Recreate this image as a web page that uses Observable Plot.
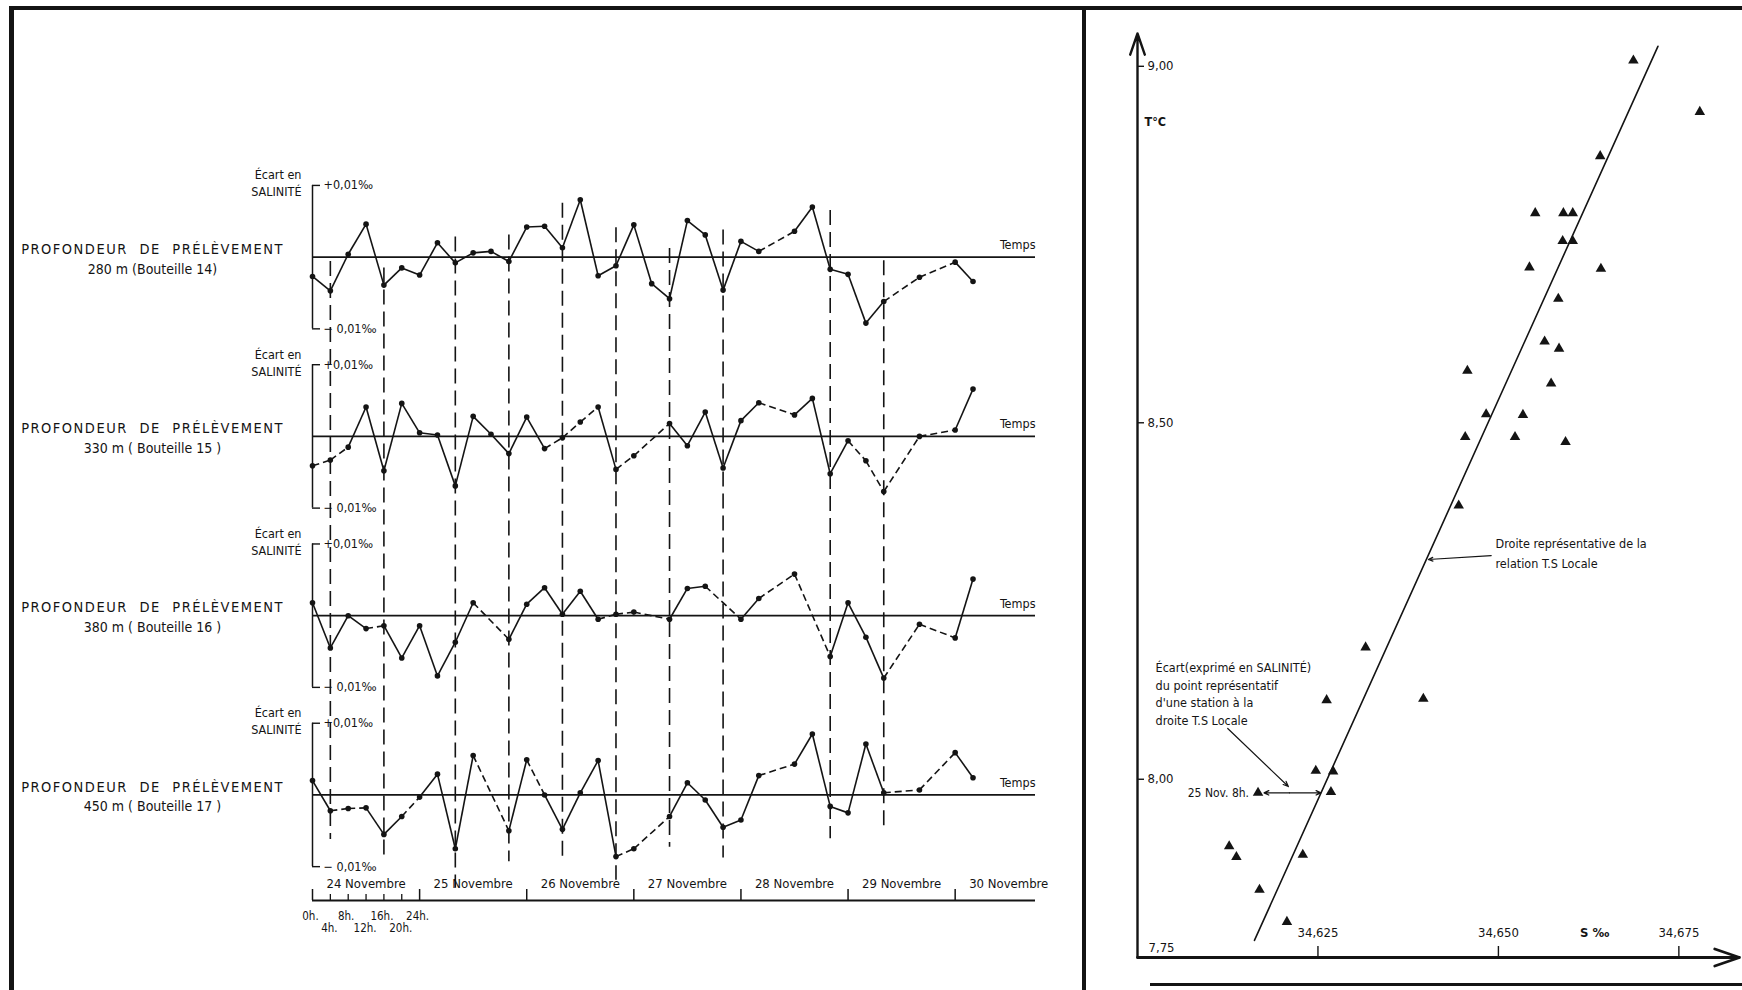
<!DOCTYPE html>
<html><head><meta charset="utf-8">
<script src="https://cdn.jsdelivr.net/npm/d3@7"></script>
<script src="https://cdn.jsdelivr.net/npm/@observablehq/plot@0.6"></script>
<style>
html,body{margin:0;padding:0;background:#fff;}
#page{position:relative;width:1742px;height:990px;overflow:hidden;background:#fff;}
.rule{position:absolute;background:#141414;}
#left{position:absolute;left:0;top:0;}
#right{position:absolute;left:1086px;top:0;}
</style></head><body>
<div id="page">
  <div id="left"></div>
  <div id="right"></div>
  <div class="rule" style="left:9px;top:6px;width:1733px;height:4px"></div>
  <div class="rule" style="left:9px;top:6px;width:5px;height:984px"></div>
  <div class="rule" style="left:1082px;top:6px;width:4px;height:984px"></div>
  <div class="rule" style="left:1150px;top:983px;width:592px;height:3px"></div>
</div>
<script>
// ---------------- LEFT PANEL DATA ----------------
// sampling times: hours since 24 Novembre 0h (one sample every 4 h)
const sampleHours = [0,4,8,12,16,20,24,28,32,36,40,44,48,52,56,60,64,68,72,76,80,84,88,92,96,100,104,108,112,116,120,124,128,132,136,140,144,148];
const depthTitles = ["280 m (Bouteille 14)", "330 m ( Bouteille 15 )", "380 m ( Bouteille 16 )", "450 m ( Bouteille 17 )"];
// salinity deviation, unit = 0.01 ‰ (null = no sample)
const ecart280 = [-0.27,-0.47,0.04,0.46,-0.39,-0.15,-0.25,0.20,-0.08,0.06,0.08,-0.06,0.42,0.43,0.13,0.80,-0.26,-0.12,0.45,-0.37,-0.58,0.51,0.31,-0.46,0.22,0.08,null,0.36,0.70,-0.17,-0.24,-0.92,-0.62,null,-0.28,null,-0.07,-0.34];
const ecart330 = [-0.41,-0.33,-0.15,0.41,-0.48,0.46,0.05,0.02,-0.69,0.28,0.03,-0.24,0.27,-0.17,-0.02,0.20,0.41,-0.46,-0.27,null,0.18,-0.13,0.34,-0.44,0.22,0.47,null,0.30,0.53,-0.52,-0.06,-0.34,-0.77,null,0.00,null,0.09,0.66];
const ecart380 = [0.18,-0.45,0.00,-0.18,-0.14,-0.59,-0.14,-0.84,-0.37,0.18,null,-0.33,0.16,0.39,0.02,0.34,-0.05,0.02,0.05,null,-0.05,0.38,0.41,null,-0.05,0.24,null,0.58,null,-0.57,0.18,-0.30,-0.87,null,-0.12,null,-0.31,0.51];
const ecart450 = [0.20,-0.22,-0.19,-0.18,-0.55,-0.30,-0.03,0.29,-0.75,0.55,null,-0.50,0.49,0.00,-0.48,0.03,0.48,-0.86,-0.75,null,-0.30,0.17,-0.07,-0.45,-0.35,0.27,null,0.43,0.85,-0.16,-0.25,0.71,0.03,null,0.07,null,0.59,0.24];
// sample indices whose following segment is drawn dashed (gaps are always dashed)
const dashedFrom280 = [];
const dashedFrom330 = [0,1,13,14,15,17,30,31];
const dashedFrom380 = [3,16,17];
const dashedFrom450 = [1,2,5,12,17];
// long dashed vertical guides: hour, top (row 280 units), bottom (row 450 units)
const guideHours = [4,16,32,44,56,68,80,92,116,128];
const guideTop280 = [-0.06,-0.15,0.28,0.31,0.75,0.41,0.12,0.38,0.65,-0.05];
const guideBottom450 = [-0.62,-0.90,-1.30,-0.93,-0.92,-1.19,-0.73,-0.88,-0.61,-0.43];
const ecartTickValues = [1, -1];
const ecartTickLabels = ["+0,01‰", "− 0,01‰"];
const dayLabels = ["24 Novembre","25 Novembre","26 Novembre","27 Novembre","28 Novembre","29 Novembre","30 Novembre"];
const dayStartHours = [0,24,48,72,96,120,144];
const hourTickHours = [0,4,8,12,16,20,24];
const hourTickLabels = ["0h.","4h.","8h.","12h.","16h.","20h.","24h."];

// ---------------- RIGHT PANEL DATA ----------------
const tsSalinity = [34.6687,34.6779,34.6641,34.6551,34.6590,34.6603,34.6589,34.6603,34.6543,34.6642,34.6583,34.6564,34.6584,34.6457,34.6573,34.6483,34.6534,34.6454,34.6523,34.6593,34.6445,34.6316,34.6262,34.6396,34.6247,34.6271,34.6167,34.6268,34.6127,34.6137,34.6229,34.6169,34.6207];
const tsTemperature = [9.008,8.936,8.874,8.794,8.794,8.794,8.755,8.755,8.718,8.716,8.674,8.614,8.604,8.573,8.555,8.512,8.511,8.480,8.480,8.473,8.384,8.185,8.111,8.113,8.012,8.011,7.981,7.982,7.906,7.891,7.894,7.845,7.800];
const tsLabels = ["","","","","","","","","","","","","","","","","","","","","","","","","","","25 Nov. 8h.","","","","","",""];
const lineSalinity = [34.6162, 34.6721];
const lineTemperature = [7.774, 9.028];
const tTicks = [9.00, 8.50, 8.00];
const tOriginLabel = [7.75];
const sTicks = [34.625, 34.650, 34.675];
const sAxisTitlePos = [34.6625];
const noteLineText = ["Droite représentative de la", "relation T.S Locale"];
const noteLinePos = {s: 34.6496, t: [8.3306, 8.3026]};
const noteLineArrow = {s1: 34.6490, t1: 8.3138, s2: 34.6403, t2: 8.3082};
const noteEcartText = ["Écart(exprimé en SALINITÉ)", "du point représentatif", "d'une station à la", "droite T.S Locale"];
const noteEcartPos = {s: 34.6025, t: [8.1560, 8.1308, 8.1070, 8.0817]};
const noteEcartArrow = {s1: 34.6125, t1: 8.0712, s2: 34.6209, t2: 7.9898};
const ecartArrow = {sPoint: 34.6167, sLine: 34.6254, t: 7.981};

const INK = "#141414";
const FONT = "'DejaVu Sans Condensed', 'DejaVu Sans', sans-serif";

// ---------------- LEFT PANEL ----------------
{
  const W = 1080, H = 990, ML = 312, MR = 45, MT = 167, MB = 90;
  const ROW_STEP = 2.5;
  const off = r => -ROW_STEP * r;
  const Y_DOMAIN = [-8.972, 1.25];
  const FRAME_W = W - ML - MR, FRAME_H = H - MT - MB;
  const series = [ecart280, ecart330, ecart380, ecart450];
  const dashedFrom = [dashedFrom280, dashedFrom330, dashedFrom380, dashedFrom450];
  const rows = [0,1,2,3];
  const pts = [], segs = [];
  series.forEach((vals, r) => {
    let prev = null;
    vals.forEach((v, i) => {
      if (v == null) return;
      const p = {r, i, h: sampleHours[i], y: v + off(r)};
      pts.push(p);
      if (prev) segs.push({x1: prev.h, y1: prev.y, x2: p.h, y2: p.y,
        dashed: (p.i - prev.i > 1) || dashedFrom[r].includes(prev.i)});
      prev = p;
    });
  });
  const tickItems = [];
  rows.forEach(r => ecartTickValues.forEach((v, k) => tickItems.push({y: v + off(r), label: ecartTickLabels[k]})));
  const guides = guideHours.map((h, k) => ({h, top: guideTop280[k] + off(0), bottom: guideBottom450[k] + off(3)}));
  const days = dayLabels.map((d, k) => ({label: d, mid: dayStartHours[k] + 12}));
  const hours = hourTickHours.map((h, k) => ({h, label: hourTickLabels[k], lower: k % 2 === 1}));

  const svg = Plot.plot({
    width: W, height: H, marginLeft: ML, marginRight: MR, marginTop: MT, marginBottom: MB,
    x: {domain: [0, 162], axis: null},
    y: {domain: Y_DOMAIN, axis: null},
    style: {fontFamily: FONT, color: INK, background: "transparent"},
    marks: [
      // dashed vertical guides
      Plot.ruleX(guides, {x: "h", y1: "top", y2: "bottom", stroke: INK, strokeWidth: 1.6, strokeDasharray: "15,7"}),
      // zero lines ("Temps")
      Plot.ruleY(rows, {y: r => off(r), stroke: INK, strokeWidth: 1.8}),
      // row vertical axes
      Plot.ruleX(rows, {x: 0, y1: r => off(r) + 1, y2: r => off(r) - 1, stroke: INK, strokeWidth: 1.5}),
      Plot.ruleY(tickItems, {y: "y", insetRight: FRAME_W - 8, stroke: INK, strokeWidth: 1.4}),
      Plot.text(tickItems, {x: 0, y: "y", text: "label", textAnchor: "start", dx: 11, fontSize: 12.5, fill: INK}),
      Plot.text(rows, {x: 0, y: r => off(r) + 1, text: () => "Écart en\nSALINITÉ", textAnchor: "end", dx: -11, dy: -3, lineHeight: 1.35, fontSize: 12.5, fill: INK}),
      Plot.text(rows, {x: 0, y: r => off(r), text: () => "PROFONDEUR DE PRÉLÈVEMENT", textAnchor: "middle", dx: -160, dy: -8, fontSize: 14.5, fill: INK}),
      Plot.text(rows, {x: 0, y: r => off(r), text: r => depthTitles[r], textAnchor: "middle", dx: -160, dy: 12, fontSize: 14, fill: INK}),
      Plot.text(rows, {y: r => off(r), frameAnchor: "right", text: () => "Temps", textAnchor: "end", dy: -12, fontSize: 12.5, fill: INK}),
      // series
      Plot.link(segs.filter(d => !d.dashed), {x1: "x1", y1: "y1", x2: "x2", y2: "y2", stroke: INK, strokeWidth: 1.6}),
      Plot.link(segs.filter(d => d.dashed), {x1: "x1", y1: "y1", x2: "x2", y2: "y2", stroke: INK, strokeWidth: 1.6, strokeDasharray: "7,4"}),
      Plot.dot(pts, {x: "h", y: "y", r: 2.8, fill: INK, stroke: "none"}),
      // time axis
      Plot.ruleY([Y_DOMAIN[0]], {stroke: INK, strokeWidth: 2}),
      Plot.ruleX(dayStartHours, {x: d => d, insetTop: FRAME_H - 11, stroke: INK, strokeWidth: 1.5}),
      Plot.ruleX(hourTickHours.slice(1, 6), {x: d => d, insetTop: FRAME_H - 6, stroke: INK, strokeWidth: 1.3}),
      Plot.text(days, {x: "mid", frameAnchor: "bottom", text: "label", dy: -13, fontSize: 13, fill: INK}),
      Plot.text(hours.filter(d => !d.lower), {x: "h", frameAnchor: "bottom", text: "label", dy: 19, dx: -2, fontSize: 11.5, fill: INK}),
      Plot.text(hours.filter(d => d.lower), {x: "h", frameAnchor: "bottom", text: "label", dy: 31, dx: -1, fontSize: 11.5, fill: INK}),
    ]
  });
  document.getElementById("left").appendChild(svg);
}

// ---------------- RIGHT PANEL ----------------
{
  const W = 656, H = 990, ML = 51, MR = 3, MT = 33, MB = 33;
  const S_DOMAIN = [34.600, 34.6834], T_DOMAIN = [7.75, 9.046];
  const FRAME_W = W - ML - MR, FRAME_H = H - MT - MB;
  const pts = tsSalinity.map((s, i) => ({s, t: tsTemperature[i], label: tsLabels[i]}));
  const fitLine = lineSalinity.map((s, i) => ({s, t: lineTemperature[i]}));
  const fmtT = d => d.toFixed(2).replace(".", ",");
  const fmtS = d => d.toFixed(3).replace(".", ",");
  const midS = (ecartArrow.sPoint + ecartArrow.sLine) / 2;
  const svg = Plot.plot({
    width: W, height: H, marginLeft: ML, marginRight: MR, marginTop: MT, marginBottom: MB,
    x: {domain: S_DOMAIN, axis: null},
    y: {domain: T_DOMAIN, axis: null},
    style: {fontFamily: FONT, color: INK, background: "transparent"},
    marks: [
      Plot.arrow([0], {x1: S_DOMAIN[0], y1: T_DOMAIN[0], x2: S_DOMAIN[0], y2: T_DOMAIN[1], stroke: INK, strokeWidth: 2.4, headLength: 14, headAngle: 38}),
      Plot.arrow([0], {x1: S_DOMAIN[0], y1: T_DOMAIN[0], x2: S_DOMAIN[1], y2: T_DOMAIN[0], stroke: INK, strokeWidth: 2.8, headLength: 14, headAngle: 38}),
      Plot.tickY(tTicks, {y: d => d, insetRight: FRAME_W - 7, stroke: INK, strokeWidth: 1.4}),
      Plot.text(tTicks, {y: d => d, frameAnchor: "left", text: fmtT, textAnchor: "start", dx: 10, fontSize: 13, fill: INK}),
      Plot.text(tOriginLabel, {y: d => d, frameAnchor: "left", text: fmtT, textAnchor: "start", dx: 11, dy: -10, fontSize: 13, fill: INK}),
      Plot.tickX(sTicks, {x: d => d, insetTop: FRAME_H - 11, stroke: INK, strokeWidth: 1.4}),
      Plot.text(sTicks, {x: d => d, frameAnchor: "bottom", text: fmtS, dy: -21, fontSize: 13, fill: INK}),
      Plot.text(sAxisTitlePos, {x: d => d, frameAnchor: "bottom", text: () => "S ‰", dy: -21, dx: 6, fontSize: 13, fontWeight: "bold", fill: INK}),
      Plot.text([0], {frameAnchor: "top-left", text: () => "T°C", textAnchor: "start", dx: 7, dy: 84, fontSize: 12.5, fontWeight: "bold", fill: INK}),
      Plot.line(fitLine, {x: "s", y: "t", stroke: INK, strokeWidth: 1.6}),
      Plot.dot(pts, {x: "s", y: "t", symbol: "triangle", r: 3.9, fill: INK, stroke: "none"}),
      // annotations
      Plot.text(noteLinePos.t, {x: noteLinePos.s, y: d => d, text: (d, i) => noteLineText[i], textAnchor: "start", fontSize: 12.5, fill: INK}),
      Plot.arrow([0], {x1: noteLineArrow.s1, y1: noteLineArrow.t1, x2: noteLineArrow.s2, y2: noteLineArrow.t2, stroke: INK, strokeWidth: 1.2, headLength: 6, headAngle: 45}),
      Plot.text(noteEcartPos.t, {x: noteEcartPos.s, y: d => d, text: (d, i) => noteEcartText[i], textAnchor: "start", fontSize: 12.5, fill: INK}),
      Plot.arrow([0], {x1: noteEcartArrow.s1, y1: noteEcartArrow.t1, x2: noteEcartArrow.s2, y2: noteEcartArrow.t2, stroke: INK, strokeWidth: 1.2, headLength: 7, headAngle: 45}),
      Plot.arrow([0], {x1: midS, y1: ecartArrow.t, x2: ecartArrow.sPoint, y2: ecartArrow.t, stroke: INK, strokeWidth: 1.3, headLength: 6, headAngle: 50, insetEnd: 6}),
      Plot.arrow([0], {x1: midS, y1: ecartArrow.t, x2: ecartArrow.sLine, y2: ecartArrow.t, stroke: INK, strokeWidth: 1.3, headLength: 6, headAngle: 50}),
      Plot.text(pts.filter(d => d.label), {x: "s", y: "t", text: "label", textAnchor: "end", dx: -9, fontSize: 12, fill: INK}),
    ]
  });
  document.getElementById("right").appendChild(svg);
}

// letter spacing for the wide lettering of the row titles
document.querySelectorAll("#left text").forEach(t => {
  if (t.textContent.startsWith("PROFONDEUR")) {
    t.setAttribute("letter-spacing", "1.5px");
    t.setAttribute("word-spacing", "6px");
  }
});
</script>
</body></html>
